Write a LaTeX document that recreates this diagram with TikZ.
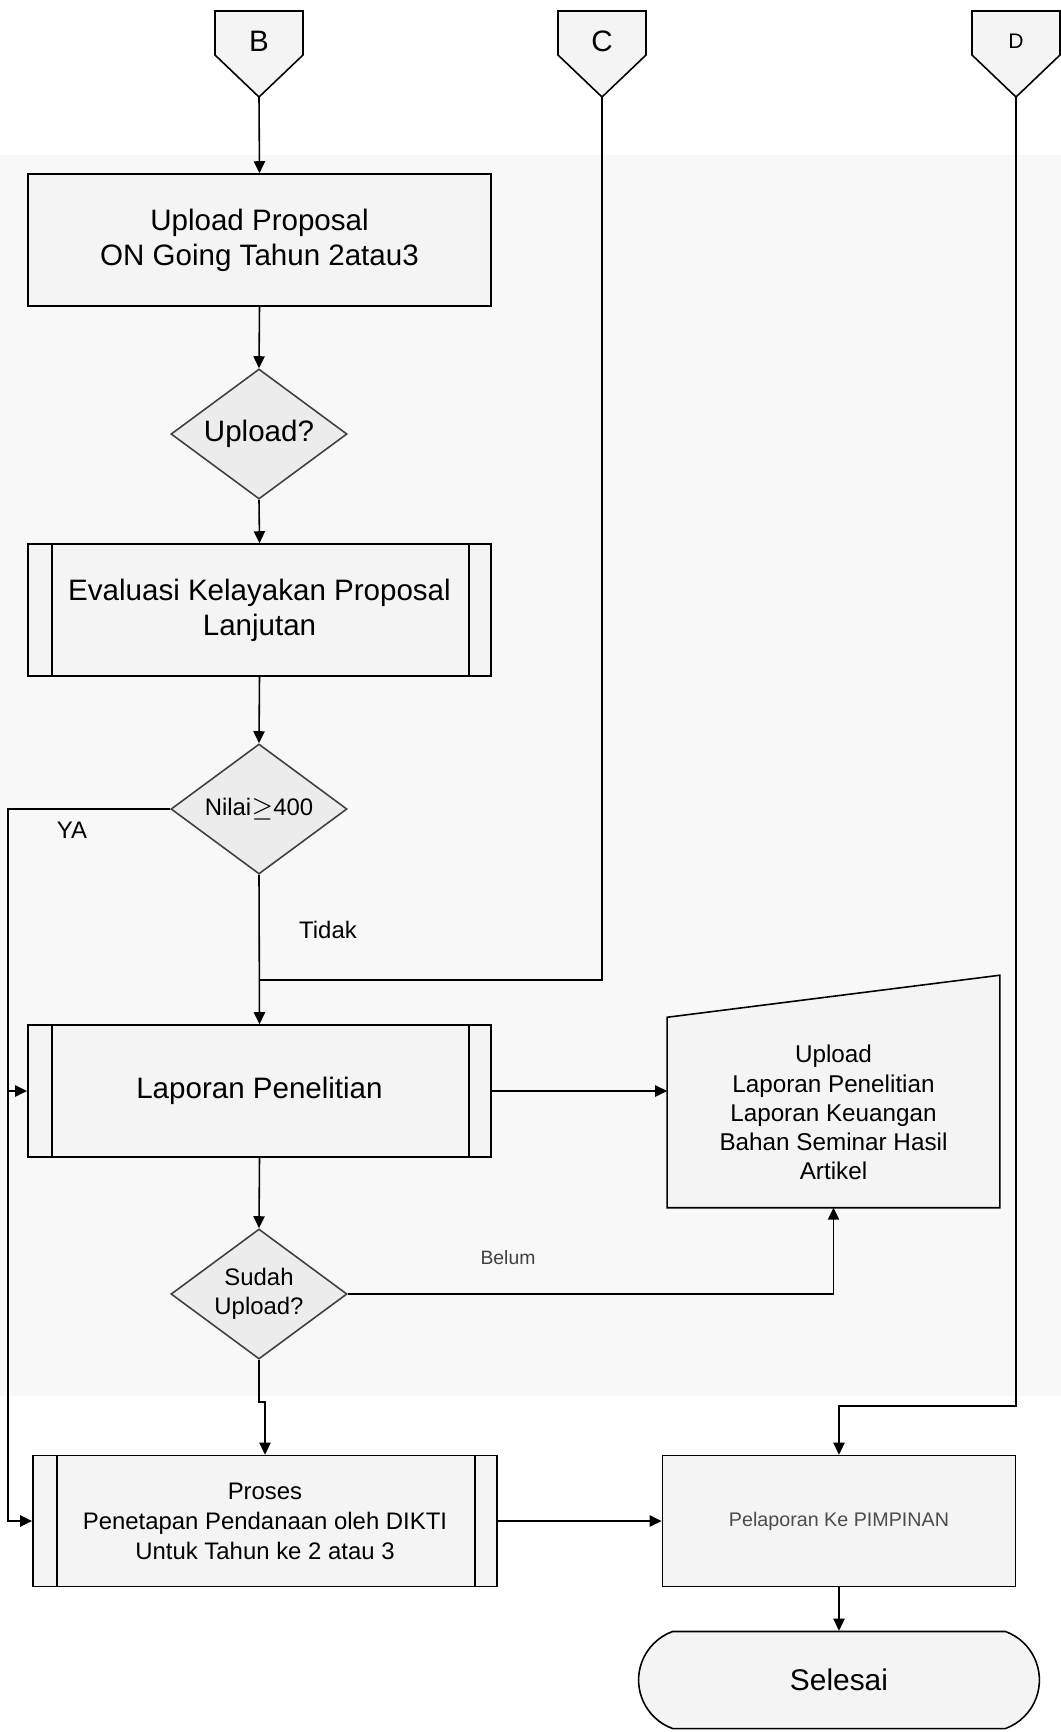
\documentclass[tikz,border=0pt]{standalone}
\usepackage{fontspec}
\setmainfont{Liberation Sans}
\usetikzlibrary{positioning,calc,arrows.meta,shapes.geometric,shapes.misc,backgrounds}
\tikzset{>={Triangle[length=3.4pt,width=3.2pt]}}
\definecolor{boxgray}{HTML}{F4F4F4}
\definecolor{diagray}{HTML}{ECECEC}
\definecolor{bandgray}{HTML}{F8F8F8}
\tikzset{
  line/.style={draw=black,line width=0.45pt},
  procbox/.style={draw,line width=0.45pt,fill=boxgray,inner sep=0pt,align=center,
    minimum width=4.63cm,minimum height=1.32cm,font=\fontsize{8.4}{10}\selectfont},
  subproc/.style={procbox,path picture={
    \draw[line width=0.45pt] ([xshift=0.24cm]path picture bounding box.north west) -- ([xshift=0.24cm]path picture bounding box.south west);
    \draw[line width=0.45pt] ([xshift=-0.22cm]path picture bounding box.north east) -- ([xshift=-0.22cm]path picture bounding box.south east);}},
  decision/.style={diamond,draw=black!75,fill=diagray,line width=0.45pt,inner sep=0pt,
    aspect=1.35,minimum width=1.76cm,minimum height=1.30cm,align=center},
  lbl/.style={font=\fontsize{6.8}{8}\selectfont}
}
\begin{document}
\begin{tikzpicture}[x=0.01cm,y=-0.01cm]
\useasboundingbox (0,0) rectangle (1061,1732);
% off-page connectors
\foreach \n/\x/\f in {B/259/8.4,C/602/8.4,D/1016/6} {
  \draw[line,fill=boxgray] (\x-44,11) -- (\x+44,11) -- (\x+44,55) -- (\x,97) -- (\x-44,55) -- cycle;
  \node[font=\fontsize{\f}{10}\selectfont] (\n) at (\x,41) {\n};
  \coordinate (\n-tip) at (\x,97);
}
\node[procbox] (upl) at (259.5,240) {Upload Proposal\\ON Going Tahun 2atau3};
\node[decision,font=\fontsize{8.4}{10}\selectfont] (qupl) at (259,434) {Upload?};
\node[subproc] (eval) at (259.5,610) {Evaluasi Kelayakan Proposal\\Lanjutan};
\node[decision,font=\fontsize{6.8}{8}\selectfont] (qnil) at (259,809) {Nilai$\geq$400};
\node[subproc] (lap) at (259.5,1091) {Laporan Penelitian};
\node[inner sep=0pt,minimum width=3.31cm,minimum height=1.89cm,align=center,
  font=\fontsize{6.9}{8.3}\selectfont] (uplap) at (833.5,1112.5)
  {Upload\\Laporan Penelitian\\Laporan Keuangan\\Bahan Seminar Hasil\\Artikel};
\node[decision,font=\fontsize{6.8}{8.3}\selectfont] (qsud) at (259,1294) {Sudah\\Upload?};
\node[subproc,minimum width=4.64cm,minimum height=1.31cm,font=\fontsize{6.8}{8.5}\selectfont]
  (proses) at (265,1521) {Proses\\Penetapan Pendanaan oleh DIKTI\\Untuk Tahun ke 2 atau 3};
\node[procbox,minimum width=3.53cm,minimum height=1.31cm,font=\fontsize{5.6}{7}\selectfont,
  text=black!70] (pel) at (839,1521) {Pelaporan Ke PIMPINAN};
\node[rounded rectangle,rounded rectangle arc length=140,draw,line width=0.45pt,fill=boxgray,
  minimum width=4.24cm,minimum height=0.97cm,font=\fontsize{8.5}{10}\selectfont] (sel) at (839,1680) {Selesai};
% labels
\node[lbl] (ya) at (72,830) {YA};
\node[lbl] (tidak) at (328,930) {Tidak};
\node[lbl,font=\fontsize{5.5}{7}\selectfont,text=black!75] (belum) at (508,1258) {Belum};
\coordinate (yacol) at (8,809);
\coordinate (cjoin) at (259,980);
\coordinate (dturn) at (1016,1406);
\begin{scope}[on background layer]
\fill[bandgray] (0,155) rectangle (1061,1396);
\draw[line,fill=boxgray] (uplap.south west) -- (uplap.south east) -- ([yshift=0.42cm]uplap.north east) -- (uplap.north west) -- cycle;
\end{scope}
% connectors
\draw[line,->] (B-tip) -- (upl.north);
\draw[line,->] (upl.south) -- (qupl.north);
\draw[line,->] (qupl.south) -- (eval.north);
\draw[line,->] (eval.south) -- (qnil.north);
\draw[line,->] (qnil.west) -- (yacol) |- (proses.west);
\draw[line,->] (yacol |- lap.west) -- (lap.west);
\draw[line,->] (qnil.south) -- (lap.north);
\draw[line] (C-tip) |- (cjoin);
\draw[line,->] (lap.east) -- (lap.east -| uplap.west);
\draw[line,->] (lap.south) -- (qsud.north);
\draw[line,->] (qsud.east) -| (uplap.south);
\draw[line,->] (qsud.south) -- ++(0,42) -| (proses.north);
\draw[line,->] (proses.east) -- (pel.west);
\draw[line,->] (D-tip) -- (dturn) -| (pel.north);
\draw[line,->] (pel.south) -- (sel.north);
\end{tikzpicture}
\end{document}
